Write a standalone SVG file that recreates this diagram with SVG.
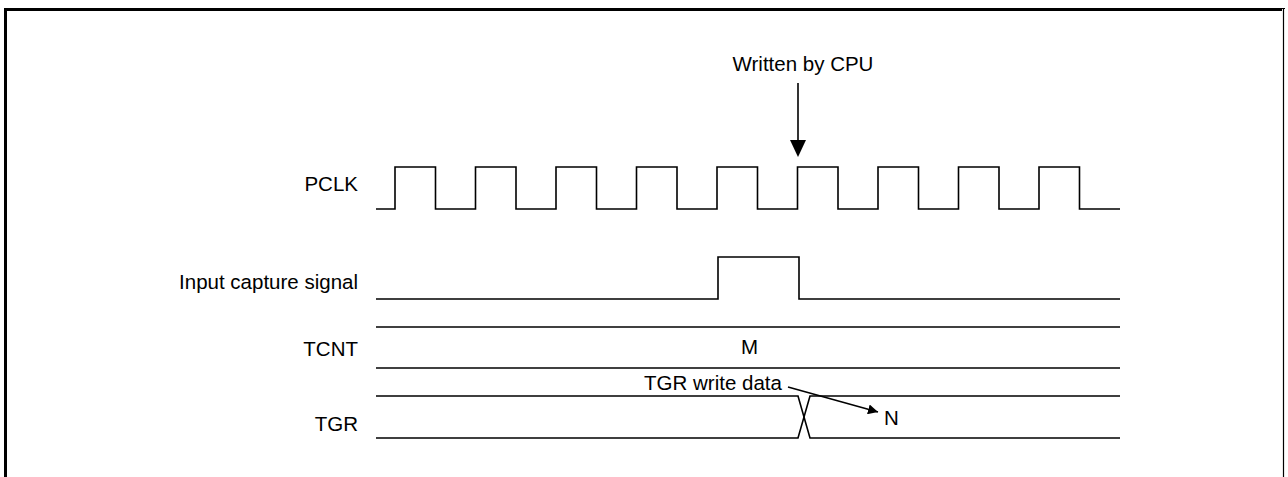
<svg xmlns="http://www.w3.org/2000/svg" width="1288" height="477" viewBox="0 0 1288 477">
<defs>
<style>
text{font-family:"Liberation Sans",Arial,sans-serif;font-size:20.5px;fill:#000}
.lbl{text-anchor:end}
.mid{text-anchor:middle}
.sig{fill:none;stroke:#000;stroke-width:1.6;stroke-linejoin:miter}
.arr{fill:none;stroke:#000;stroke-width:1.6}
</style>
<marker id="ah" viewBox="0 0 10 10" refX="10" refY="5" markerWidth="10" markerHeight="10" markerUnits="userSpaceOnUse" orient="auto"><path d="M0,0 L10,5 L0,10 Z" fill="#000"/></marker>
</defs>
<rect width="1288" height="477" fill="#fff"/>
<g id="frame">
<path d="M5.5,477 V9.5 H1283.5 V477" fill="none" stroke="#000" stroke-width="3"/>
<line x1="1283.5" y1="9" x2="1283.5" y2="477" stroke="#fff" stroke-width="3"/>
<line x1="1283.5" y1="8" x2="1283.5" y2="477" stroke="#000" stroke-width="1.2"/>
</g>
<g id="labels">
<text class="lbl" x="358" y="191">PCLK</text>
<text class="lbl" x="358" y="289">Input capture signal</text>
<text class="lbl" x="358" y="356">TCNT</text>
<text class="lbl" x="358" y="431">TGR</text>
</g>
<g id="pclk">
<path class="sig" d="M376,209 H395 V167 H435.5 V209 H475.5 V167 H516 V209 H556 V167 H596.5 V209 H636.5 V167 H677 V209 H717 V167 H757.5 V209 H797.5 V167 H838 V209 H878 V167 H918.5 V209 H958.5 V167 H999 V209 H1039 V167 H1079.5 V209 H1120"/>
</g>
<g id="capture">
<path class="sig" d="M376,299 H718 V257 H799 V299 H1120"/>
</g>
<g id="tcnt">
<line class="sig" x1="376" y1="327" x2="1120" y2="327"/>
<line class="sig" x1="376" y1="368" x2="1120" y2="368"/>
<text class="mid" x="749.5" y="354">M</text>
</g>
<g id="tgr">
<path class="sig" d="M376,396 H798 L810,438 H1120"/>
<path class="sig" d="M376,438 H798 L810,396 H1120"/>
<text class="mid" x="713" y="390">TGR write data</text>
<text class="mid" x="891.5" y="425">N</text>
</g>
<g id="cpu">
<text class="mid" x="803" y="71">Written by CPU</text>
</g>
<g id="connectors">
<line x1="798" y1="83" x2="798" y2="140" stroke="#000" stroke-width="1.6"/>
<path d="M790,140 L806,140 L798,157 Z" fill="#000"/>
<line class="arr" x1="788" y1="387" x2="878" y2="412" marker-end="url(#ah)"/>
</g>
</svg>
